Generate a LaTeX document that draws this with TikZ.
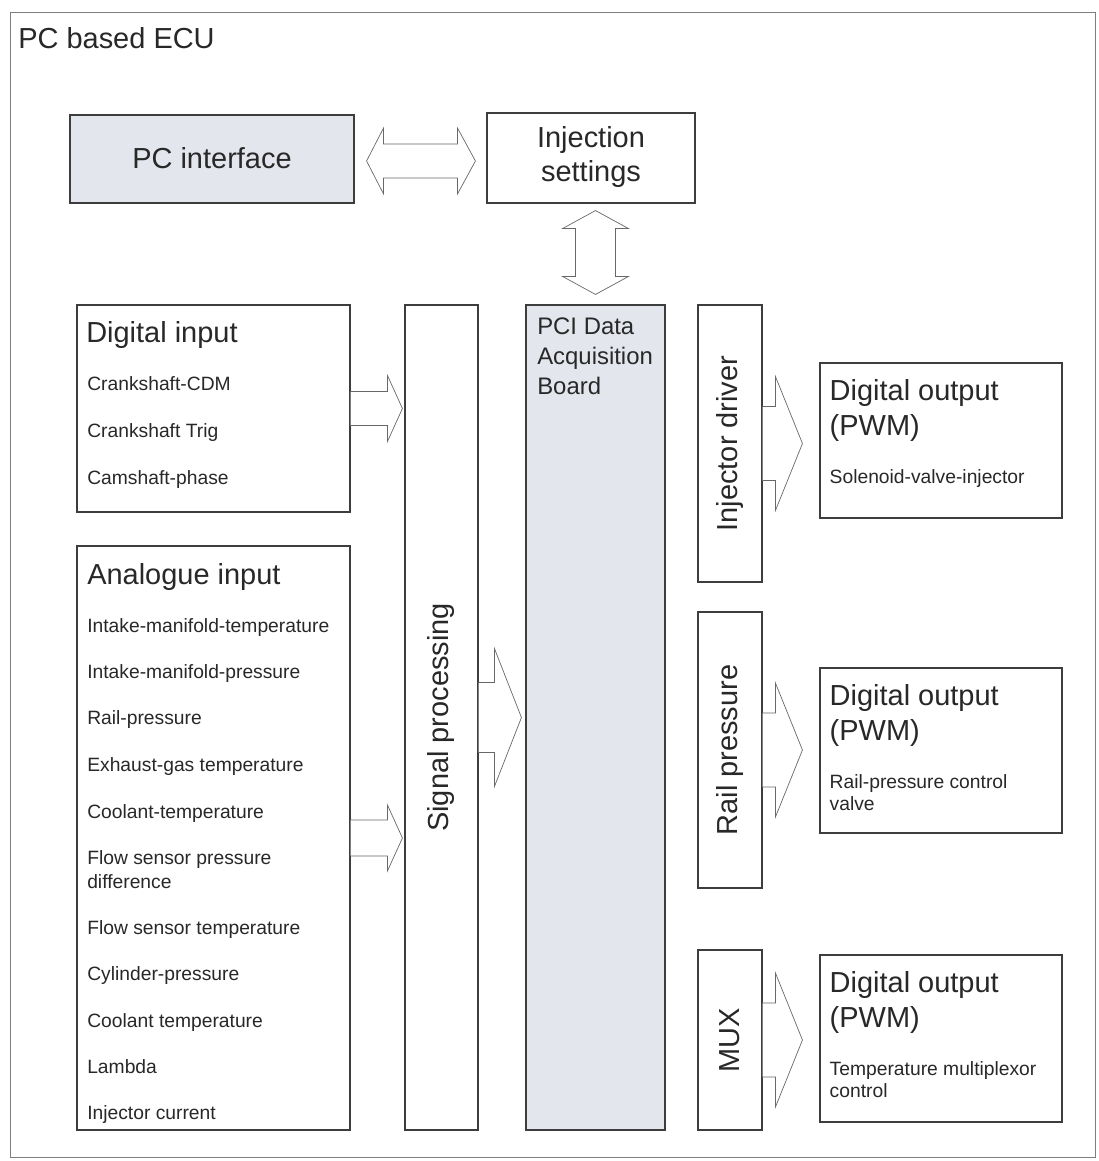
\documentclass[tikz,border=0pt]{standalone}
\usepackage{fontspec}
\setmainfont{Liberation Sans}
\usetikzlibrary{calc,fit}

\definecolor{panel}{RGB}{228,230,238}
\definecolor{ink}{RGB}{40,40,40}

\tikzset{
  box/.style={draw=ink!90, line width=0.8pt, inner sep=0pt},
  blockarrow/.style={draw=ink!70, line width=0.5pt, fill=white},
  head/.style={font=\fontsize{20.6}{24.8}\selectfont, text=ink, inner sep=0pt},
  entry/.style={font=\fontsize{13.7}{16}\selectfont, text=ink, inner sep=0pt, anchor=base west},
  vlabel/.style={head, rotate=90},
}

% from, to, gap, shaft half, head half, head length
\newcommand{\rightblock}[6]{%
  \coordinate (arrow-s) at (#1);
  \coordinate (arrow-t) at ($(#1 -| #2)+(-#3,0)$);
  \draw[blockarrow] ($(arrow-s)+(0,-#4)$) -- ($(arrow-t)+(-#6,-#4)$) -- ($(arrow-t)+(-#6,-#5)$) -- (arrow-t)
    -- ($(arrow-t)+(-#6,#5)$) -- ($(arrow-t)+(-#6,#4)$) -- ($(arrow-s)+(0,#4)$);}

\begin{document}
\begin{tikzpicture}[x=0.025cm,y=-0.025cm]
\fill[white] (0,0) rectangle (1098,1161);
\useasboundingbox (0,0) rectangle (1098,1161);
\draw[ink!60, line width=0.6pt] (10,12) rectangle (1095,1157);
\node[head, anchor=base west] (title) at (18,49) {PC based ECU};

% top row
\node[box, fill=panel, fit={(70,115) (354,203)}] (pc) {};
\node[box, fit={(487,113) (695,203)}] (is) {};
\node[head] (pclab) at ($(pc)+(0,-1)$) {PC interface};
\node[head, align=center] (islab) at ($(is)+(0,-1)$) {Injection\\settings};

% columns
\node[box, fit={(77,305) (350,512)}] (din) {};
\node[box, fit={(77,546) (350,1130)}] (ain) {};
\node[box, fit={(405,305) (478,1130)}] (sp) {};
\node[box, fill=panel, fit={(526,305) (665,1130)}] (pci) {};
\node[box, fit={(698,305) (762,582)}] (inj) {};
\node[box, fit={(698,612) (762,888)}] (rail) {};
\node[box, fit={(698,950) (762,1130)}] (mux) {};
\node[box, fit={(820,363) (1062,518)}] (do1) {};
\node[box, fit={(820,668) (1062,833)}] (do2) {};
\node[box, fit={(820,955) (1062,1122)}] (do3) {};

\node[vlabel] (splab) at (sp) {Signal processing};
\node[vlabel] (injlab) at (inj) {Injector driver};
\node[vlabel] (raillab) at (rail) {Rail pressure};
\node[vlabel] (muxlab) at (mux) {MUX};
\node[font=\fontsize{17}{21}\selectfont, text=ink, inner sep=0pt, anchor=north west, align=left] (pcilab) at (537,318) {PCI Data\\Acquisition\\Board};

% inputs
\node[head, anchor=base west] (dinlab) at (86,343) {Digital input};
\foreach \yy/\t [count=\i] in {390/Crankshaft-CDM, 437/Crankshaft Trig, 484/Camshaft-phase}
  \node[entry] (din\i) at (87,\yy) {\t};
\node[head, anchor=base west] (ainlab) at (87,584) {Analogue input};
\foreach \yy/\t [count=\i] in {632/Intake-manifold-temperature, 678/Intake-manifold-pressure, 724/Rail-pressure,
    771/Exhaust-gas temperature, 818/Coolant-temperature, 864/Flow sensor pressure, 888/difference,
    934/Flow sensor temperature, 980/Cylinder-pressure, 1027/Coolant temperature, 1073/Lambda, 1119/Injector current}
  \node[entry] (ain\i) at (87,\yy) {\t};

% outputs
\foreach \n in {do1,do2,do3} {
  \node[head, anchor=base west] (\n-t) at ($(\n.north west)+(10,38)$) {Digital output};
  \node[head, anchor=base west] (\n-p) at ($(\n.north west)+(10,73)$) {(PWM)};
}
\node[entry] (do1-a) at ($(do1.north west)+(10,121)$) {Solenoid-valve-injector};
\node[entry] (do2-a) at ($(do2.north west)+(10,121)$) {Rail-pressure control};
\node[entry] (do2-b) at ($(do2.north west)+(10,143)$) {valve};
\node[entry] (do3-a) at ($(do3.north west)+(10,121)$) {Temperature multiplexor};
\node[entry] (do3-b) at ($(do3.north west)+(10,143)$) {control};

% block arrows
\rightblock{din.east}{sp.west}{2}{17}{33}{15}
\rightblock{ain.east}{sp.west}{2}{18}{33}{15}
\rightblock{sp.east}{pci.west}{4}{35}{69}{27}
\rightblock{inj.east}{do1.west}{17}{37}{67}{27}
\rightblock{rail.east}{do2.west}{17}{37}{67}{27}
\rightblock{mux.east}{do3.west}{17}{37}{67}{27}

\coordinate (pa) at ($(pc.east)+(12,2)$);
\coordinate (pb) at ($(pc.east -| is.west)+(-11,2)$);
\draw[blockarrow] (pa) -- ($(pa)+(17,-33)$) -- ($(pa)+(17,-17)$) -- ($(pb)+(-18,-17)$) -- ($(pb)+(-18,-33)$) -- (pb)
  -- ($(pb)+(-18,33)$) -- ($(pb)+(-18,17)$) -- ($(pa)+(17,17)$) -- ($(pa)+(17,33)$) -- cycle;

\coordinate (va) at ($(is.south -| pci.north)+(0,7)$);
\coordinate (vb) at ($(pci.north)+(0,-10)$);
\draw[blockarrow] (va) -- ($(va)+(-33,18)$) -- ($(va)+(-20,18)$) -- ($(vb)+(-20,-18)$) -- ($(vb)+(-33,-18)$) -- (vb)
  -- ($(vb)+(33,-18)$) -- ($(vb)+(20,-18)$) -- ($(va)+(20,18)$) -- ($(va)+(33,18)$) -- cycle;
\end{tikzpicture}
\end{document}
